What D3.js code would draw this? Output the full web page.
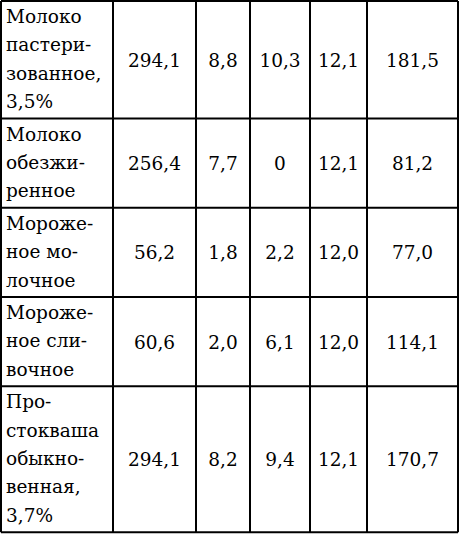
<!DOCTYPE html>
<html><head><meta charset="utf-8">
<script src="https://cdn.jsdelivr.net/npm/d3@7"></script>
<style>body{margin:0;background:#fff}</style>
</head><body>
<script>
// products, each split into the lines as printed
var products = [
  ["Молоко", "пастери-", "зованное,", "3,5%"],
  ["Молоко", "обезжи-", "ренное"],
  ["Мороже-", "ное мо-", "лочное"],
  ["Мороже-", "ное сли-", "вочное"],
  ["Про-", "стокваша", "обыкно-", "венная,", "3,7%"]
];
var col1 = ["294,1", "256,4", "56,2", "60,6", "294,1"];
var col2 = ["8,8", "7,7", "1,8", "2,0", "8,2"];
var col3 = ["10,3", "0", "2,2", "6,1", "9,4"];
var col4 = ["12,1", "12,1", "12,0", "12,0", "12,1"];
var col5 = ["181,5", "81,2", "77,0", "114,1", "170,7"];

var W = 459, H = 535;
var colEdges = [1, 113, 196, 250, 310, 367, 458];
var lineH = 28.4, pad = 4;

var svg = d3.select("body").append("svg").attr("width", W).attr("height", H);

var rowTops = [1];
products.forEach(function(p){ rowTops.push(rowTops[rowTops.length-1] + p.length*lineH + pad); });

var cols = [col1, col2, col3, col4, col5];
var font = "'DejaVu Serif', 'Liberation Serif', serif";

products.forEach(function(p, i){
  var top = rowTops[i], bot = rowTops[i+1], mid = (top+bot)/2;
  p.forEach(function(line, j){
    svg.append("text").attr("x", 6).attr("y", top + 22 + j*lineH)
      .attr("font-family", font).attr("font-size", 18.5).text(line);
  });
  cols.forEach(function(c, k){
    svg.append("text").attr("x", (colEdges[k+1]+colEdges[k+2])/2).attr("y", mid + 7)
      .attr("text-anchor", "middle").attr("font-family", font).attr("font-size", 18.5)
      .text(c[i]);
  });
});

// grid
rowTops.forEach(function(t){
  svg.append("line").attr("x1", colEdges[0]).attr("x2", colEdges[6]).attr("y1", t).attr("y2", t)
    .attr("stroke", "#000").attr("stroke-width", 2);
});
colEdges.forEach(function(x){
  svg.append("line").attr("x1", x).attr("x2", x).attr("y1", rowTops[0]).attr("y2", rowTops[rowTops.length-1])
    .attr("stroke", "#000").attr("stroke-width", 2);
});
</script>
</body></html>
